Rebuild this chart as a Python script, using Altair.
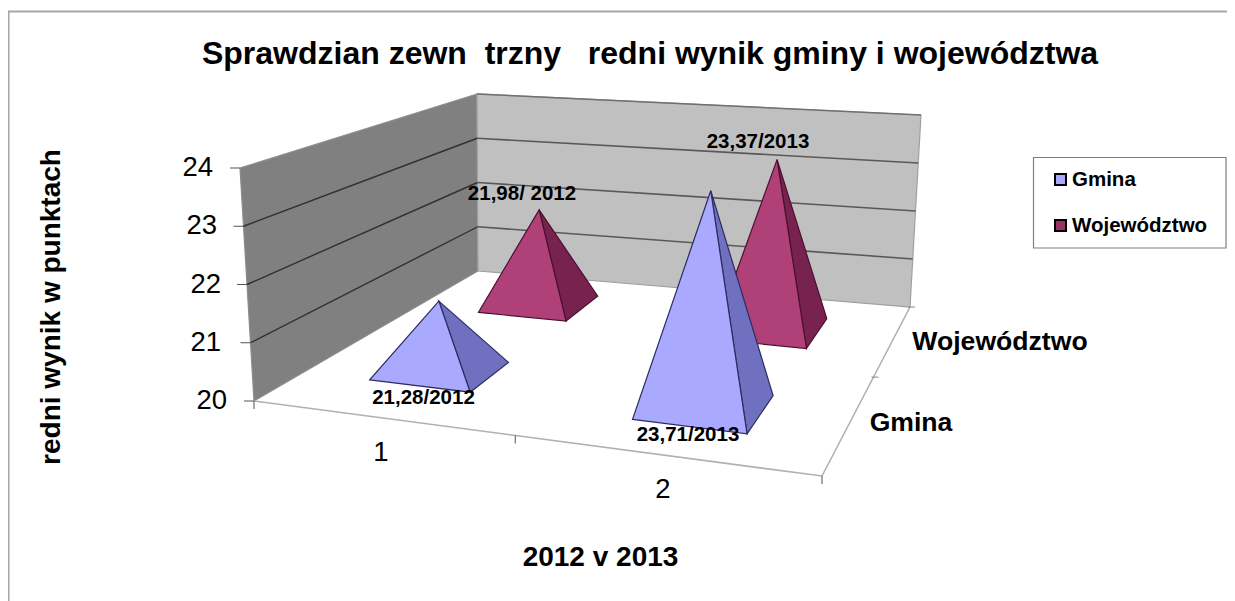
import altair as alt
import pandas as pd

# ---- values
years = ["1", "2"]
series_names = ["Gmina", "Województwo"]
gmina_values = [21.28, 23.71]
woj_values = [21.98, 23.37]
gmina_labels = ["21,28/2012", "23,71/2013"]
woj_labels = ["21,98/ 2012", "23,37/2013"]
value_ticks = [20, 21, 22, 23, 24]
title_text = "Sprawdzian zewn\u00a0\u00a0trzny\u00a0\u00a0\u00a0redni wynik gminy i województwa"
y_title = "redni wynik w punktach"
x_title = "2012 v 2013"

# ---- layout
W, H = 1219, 593
FONT = "Liberation Sans"
xs = alt.Scale(domain=[8, 8 + W])
ys = alt.Scale(domain=[8 + H, 8])

# corners of the 3D box as seen on screen (u along years, v along series, w along value)
BOX = {
    (0, 0, 0): (254, 401), (1, 0, 0): (822, 476), (1, 1, 0): (910, 307), (0, 1, 0): (478, 271),
    (0, 0, 1): (240, 168), (1, 0, 1): (836, 214), (1, 1, 1): (921, 115), (0, 1, 1): (477, 94),
}
# footprint of each pyramid on the floor: (series, year) -> u, v, du, dv
FOOT = {
    (0, 0): (0.215, 0.33, 0.187, 0.21),
    (0, 1): (0.727, 0.30, 0.211, 0.235),
    (1, 0): (0.224, 0.816, 0.187, 0.175),
    (1, 1): (0.735, 0.80, 0.20, 0.184),
}


def project(u, v, value):
    w = (value - 20) / 4
    x = y = 0.0
    for (a, b, c), (px, py) in BOX.items():
        k = (u if a else 1 - u) * (v if b else 1 - v) * (w if c else 1 - w)
        x += k * px
        y += k * py
    return x, y


layers = []


def poly(points, fill=None, stroke=None, width=1.0, closed=True, dash=None):
    df = pd.DataFrame([{"x": p[0], "y": p[1], "i": i} for i, p in enumerate(points)])
    kw = {"strokeWidth": width, "interpolate": "linear-closed" if closed else "linear"}
    if fill:
        kw["fill"] = fill
    kw["stroke"] = stroke if stroke else "transparent"
    if dash:
        kw["strokeDash"] = dash
    layers.append(
        alt.Chart(df).mark_line(**kw).encode(
            x=alt.X("x:Q", scale=xs, axis=None),
            y=alt.Y("y:Q", scale=ys, axis=None),
            order="i:Q",
        )
    )


def text(s, x, y, size, bold=True, align="center", angle=0):
    df = pd.DataFrame([{"x": x, "y": y, "t": s}])
    layers.append(
        alt.Chart(df).mark_text(
            font=FONT, fontSize=size, fontWeight="bold" if bold else "normal",
            align=align, baseline="middle", angle=angle, color="#000000",
        ).encode(
            x=alt.X("x:Q", scale=xs, axis=None),
            y=alt.Y("y:Q", scale=ys, axis=None),
            text="t:N",
        )
    )


def rect(x1, y1, x2, y2, fill, stroke, width):
    df = pd.DataFrame([{"x": x1, "x2": x2, "y": y1, "y2": y2}])
    layers.append(
        alt.Chart(df).mark_rect(fill=fill, stroke=stroke, strokeWidth=width).encode(
            x=alt.X("x:Q", scale=xs, axis=None), x2="x2:Q",
            y=alt.Y("y:Q", scale=ys, axis=None), y2="y2:Q",
        )
    )


# chart frame
poly([(8.5, 601), (8.5, 11.5), (1235, 11.5)], stroke="#a6a6a6", width=2, closed=False)

# walls
poly([project(0, 0, 20), project(0, 1, 20), project(0, 1, 24), project(0, 0, 24)], fill="#808080", stroke="#8c8c8c", width=1.2)
poly([project(0, 1, 20), project(1, 1, 20), project(1, 1, 24), project(0, 1, 24)], fill="#c0c0c0", stroke="#a0a0a0", width=1.2)

# gridlines on both walls
for t in value_ticks[1:-1]:
    poly([project(0, 0, t), project(0, 1, t)], stroke="#303030", width=1.4, closed=False)
    poly([project(0, 1, t), project(1, 1, t)], stroke="#585858", width=1.6, closed=False)
poly([project(0, 1, 24), project(1, 1, 24)], stroke="#707070", width=1.4, closed=False)

# floor edges
poly([project(0, 0, 20), project(1, 0, 20), project(1, 1, 20)], stroke="#b0b0b0", width=1.6, closed=False)

# value axis ticks and labels
for t in value_ticks:
    x0, y0 = project(0, 0, t)
    poly([(x0 - 10, y0), (x0, y0)], stroke="#555555", width=1, closed=False)
label_right = {20: 227, 21: 221, 22: 221, 23: 217, 24: 213}
for t in value_ticks:
    _, y0 = project(0, 0, t)
    text(str(t), label_right[t], y0, 27.5, bold=False, align="right")

# floor ticks
for u in [0, 0.46, 1]:
    x0, y0 = project(u, 0, 20)
    poly([(x0, y0), (x0, y0 + 8)], stroke="#555555", width=1, closed=False)
for v in [0.585, 1]:
    x0, y0 = project(1, v, 20)
    poly([(x0 - 2, y0), (x0 + 5, y0)], stroke="#888888", width=1, closed=False)


def pyramid(j, i, value, light, dark):
    u, v, du, dv = FOOT[(j, i)]
    apex = project(u, v, value)
    left = project(u - du / 2, v - dv / 2, 20)
    front = project(u + du / 2, v - dv / 2, 20)
    right = project(u + du / 2, v + dv / 2, 20)
    poly([front, right, apex], fill=dark[0], stroke=dark[1], width=1.2)
    poly([left, front, apex], fill=light[0], stroke=dark[1], width=1.2)


BLUE = "#a9a9ff"
PINK = "#b04078"
for i in range(2):
    pyramid(1, i, woj_values[i], (PINK,), ("#78234f", "#4a1030"))
for i in range(2):
    pyramid(0, i, gmina_values[i], (BLUE,), ("#7070c0", "#2c2c60"))

# data labels
text(gmina_labels[0], 423.5, 398, 20.5)
text(woj_labels[0], 522, 194, 20.5)
text(gmina_labels[1], 688, 435, 20.5)
text(woj_labels[1], 758, 142, 20.5)

# axis category labels
text(years[0], 381, 453, 27.5, bold=False)
text(years[1], 663, 490, 27.5, bold=False)
text(series_names[1], 1000, 342, 26.6)
text(series_names[0], 911, 423, 26.6)

# titles
text(title_text, 650, 54, 32)
text(y_title, 52, 307, 28, angle=270)
text(x_title, 600.5, 558, 28)

# legend (the page leaves the chart 1219 px, so its right edge stops just inside)
rect(1033.5, 157.5, 1226, 248, "#ffffff", "#808080", 1.2)
rect(1055, 174, 1066, 185, BLUE, "#000000", 2)
rect(1055, 220, 1066, 231, "#993366", "#000000", 2)
text(series_names[0], 1072, 180, 20.5, align="left")
text(series_names[1], 1072, 226, 20.5, align="left")

chart = (
    alt.LayerChart(layer=layers)
    .properties(width=W, height=H, padding=0, autosize=alt.AutoSizeParams(type="none"))
    .configure_view(stroke=None)
)
chart.save("out.html", embed_options={"renderer": "svg", "actions": False})
